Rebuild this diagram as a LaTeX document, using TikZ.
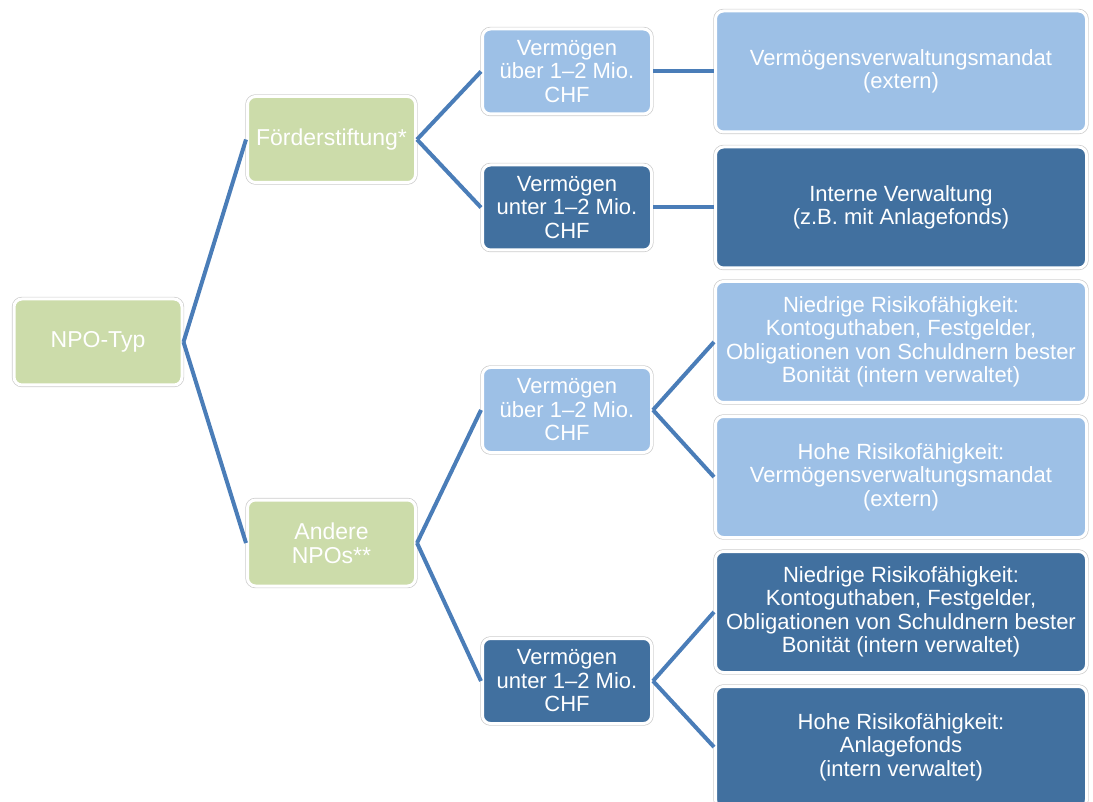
\documentclass[tikz,border=0pt]{standalone}
\usepackage{fontspec}
\setmainfont{Liberation Sans}
\definecolor{npogreen}{HTML}{CCDCAA}
\definecolor{lightblue}{HTML}{9DC0E6}
\definecolor{darkblue}{HTML}{41709F}
\definecolor{linkblue}{HTML}{4A7DB8}
\begin{document}
\begin{tikzpicture}[x=1pt, y=-1pt,
    box/.style={rectangle, rounded corners=8pt, draw=white, line width=3pt,
      text=white, align=center, inner sep=0pt,
      font=\fontsize{22}{23.5}\selectfont,
      preaction={draw=black!20, line width=4.4pt}},
    typebox/.style={box, fill=npogreen, minimum width=168pt, minimum height=86pt,
      font=\fontsize{23}{24}\selectfont},
    sizelight/.style={box, fill=lightblue, minimum width=169pt, minimum height=85pt},
    sizedark/.style={box, fill=darkblue, minimum width=169pt, minimum height=85pt},
    planlight/.style={box, fill=lightblue, minimum width=371pt, minimum height=121pt},
    plandark/.style={box, fill=darkblue, minimum width=371pt, minimum height=121pt},
    link/.style={draw=linkblue, line width=4pt}]
    \useasboundingbox (0,0) rectangle (1093,802);
    % level 1 and 2
    \node[typebox] (npo) at (98,342) {NPO-Typ};
    \node[typebox] (foerder) at (331.5,139.5) {Förderstiftung*};
    \node[typebox] (andere) at (331.5,543) {Andere\\NPOs**};
    % asset size
    \node[sizelight] (ueberA) at (567,71.5) {Vermögen\\über 1–2 Mio.\\CHF};
    \node[sizedark] (unterA) at (567,207.5) {Vermögen\\unter 1–2 Mio.\\CHF};
    \node[sizelight] (ueberB) at (567,410) {Vermögen\\über 1–2 Mio.\\CHF};
    \node[sizedark] (unterB) at (567,681) {Vermögen\\unter 1–2 Mio.\\CHF};
    % investment
    \node[planlight] (mandatA) at (901,71.5) {Vermögensverwaltungsmandat\\(extern)};
    \node[plandark] (internA) at (901,207.5) {Interne Verwaltung\\(z.B. mit Anlagefonds)};
    \node[planlight] (niedrigB) at (901,342) {Niedrige Risikofähigkeit:\\Kontoguthaben, Festgelder,\\Obligationen von Schuldnern bester\\Bonität (intern verwaltet)};
    \node[planlight] (hoheB) at (901,477) {Hohe Risikofähigkeit:\\Vermögensverwaltungsmandat\\(extern)};
    \node[plandark] (niedrigC) at (901,612) {Niedrige Risikofähigkeit:\\Kontoguthaben, Festgelder,\\Obligationen von Schuldnern bester\\Bonität (intern verwaltet)};
    \node[plandark] (hoheC) at (901,747) {Hohe Risikofähigkeit:\\Anlagefonds\\(intern verwaltet)};
    % connectors
    \draw[link] (npo.east) -- (foerder.west);
    \draw[link] (npo.east) -- (andere.west);
    \draw[link] (foerder.east) -- (ueberA.west);
    \draw[link] (foerder.east) -- (unterA.west);
    \draw[link] (andere.east) -- (ueberB.west);
    \draw[link] (andere.east) -- (unterB.west);
    \draw[link] (ueberA.east) -- (mandatA.west);
    \draw[link] (unterA.east) -- (internA.west);
    \draw[link] (ueberB.east) -- (niedrigB.west);
    \draw[link] (ueberB.east) -- (hoheB.west);
    \draw[link] (unterB.east) -- (niedrigC.west);
    \draw[link] (unterB.east) -- (hoheC.west);
\end{tikzpicture}
\end{document}
